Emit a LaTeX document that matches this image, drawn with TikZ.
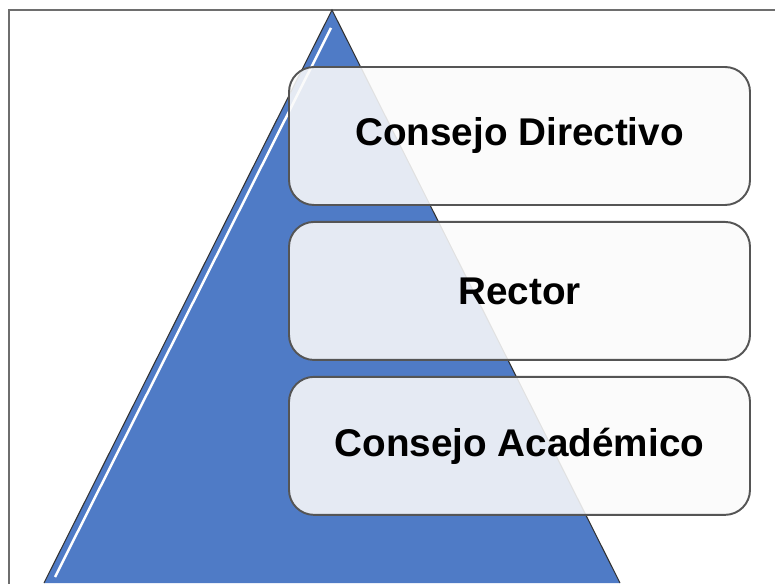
\documentclass[tikz,border=0pt]{standalone}
\usepackage{fontspec}
\setmainfont{Liberation Sans}
\usetikzlibrary{positioning}

\definecolor{pyrblue}{RGB}{79,123,198}
\definecolor{boxline}{RGB}{85,85,85}
\definecolor{frameline}{RGB}{110,110,110}
\definecolor{boxfill}{RGB}{250,250,250}

\tikzset{
  level/.style={draw=boxline, line width=1.1pt, rounded corners=0.5cm,
    fill=boxfill, fill opacity=0.88, text opacity=1,
    minimum width=9.22cm, minimum height=2.76cm,
    font=\fontsize{22}{26}\selectfont\bfseries},
}

\begin{document}
\begin{tikzpicture}
\useasboundingbox (0,0) rectangle (15.5,11.66);
\begin{scope}
\clip (0,0) rectangle (15.5,11.66);
\draw[frameline, line width=1.1pt] (0.18,-0.5)--(0.18,11.46)--(16,11.46);
\fill[pyrblue] (6.64,11.46)--(0.88,0)--(12.4,0)--cycle;
\draw[white, line width=1.4pt] (6.62,11.1)--(1.1,0.12);
\draw[black!80, line width=0.6pt] (0.88,0)--(6.64,11.46)--(12.4,0);
\end{scope}
\node[level] (directivo) at (10.39,8.94) {Consejo Directivo};
\node[level, below=0.3cm of directivo] (rector) {Rector};
\node[level, below=0.3cm of rector] (academico) {Consejo Académico};
\end{tikzpicture}
\end{document}
